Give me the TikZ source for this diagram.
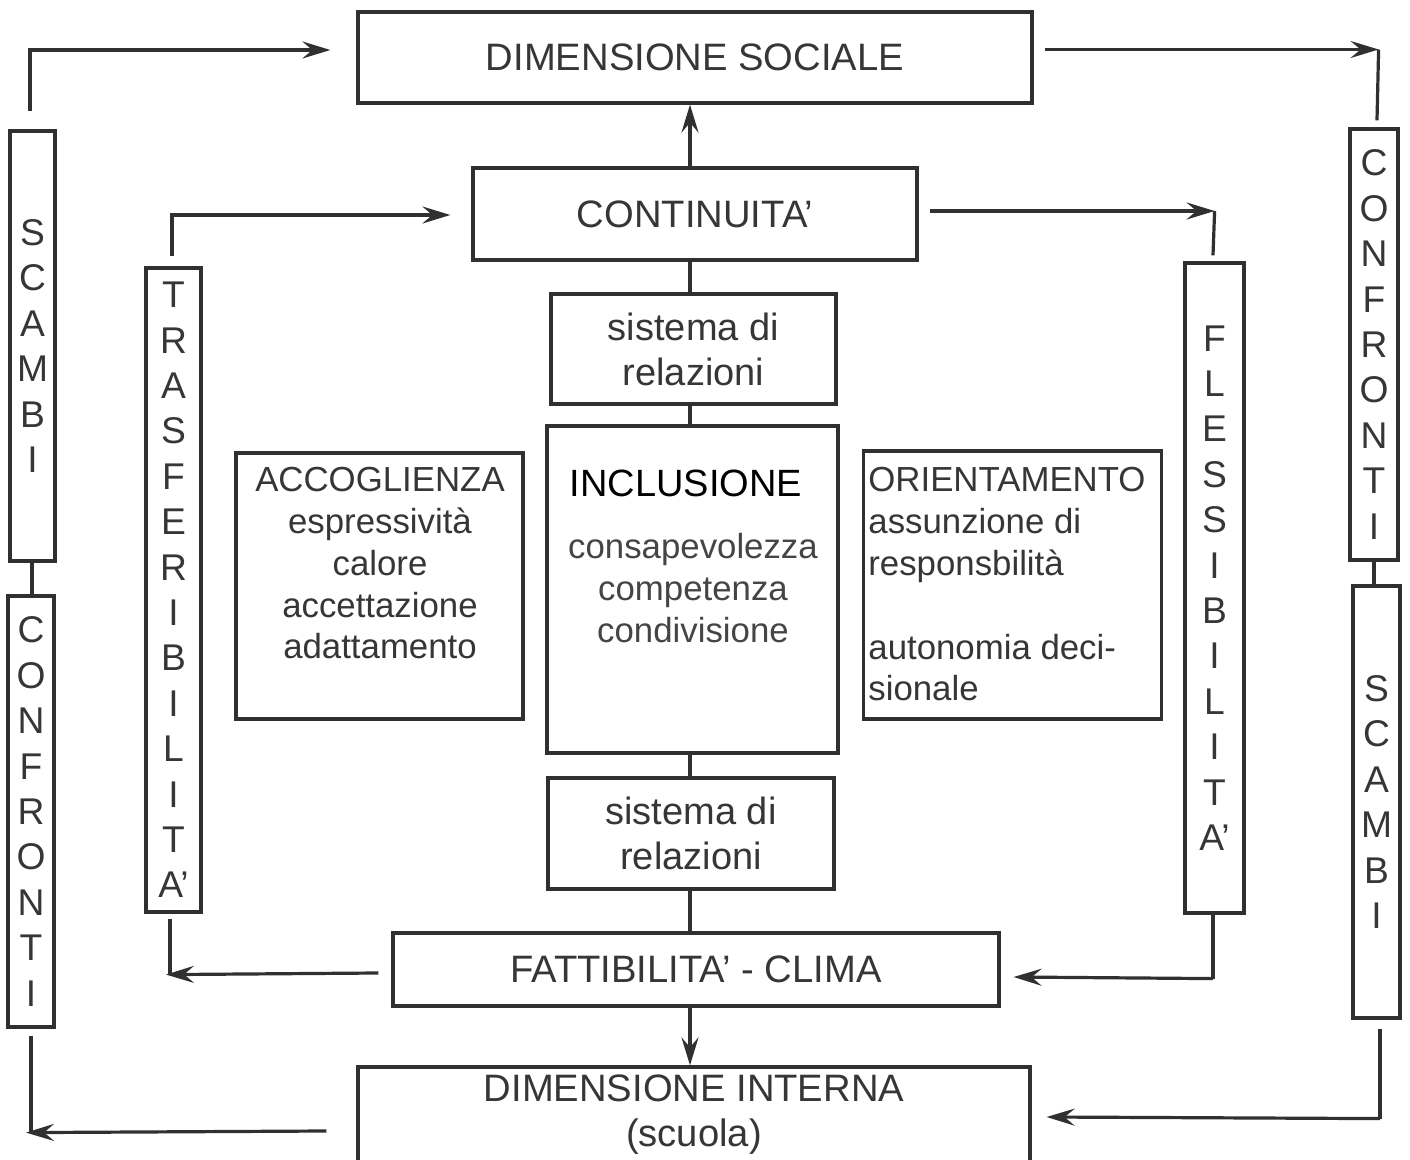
\documentclass[tikz,border=0pt]{standalone}
\usepackage{fontspec}
\setmainfont{Liberation Sans}
\usetikzlibrary{arrows.meta,calc}
\definecolor{ink}{HTML}{303030}
\definecolor{txt}{HTML}{363636}
\definecolor{lighttxt}{HTML}{454545}
\begin{document}
\begin{tikzpicture}[x=0.5pt,y=-0.5pt,
  box/.style={draw=ink, line width=1.6pt, inner sep=0pt, text=txt, align=center},
  head/.style={box, font=\fontsize{19.1}{22.5}\selectfont},
  rel/.style={box, font=\fontsize{19}{22.5}\selectfont},
  body/.style={font=\fontsize{17.4}{20.9}\selectfont, text=txt, inner sep=0pt},
  vbox/.style={box, font=\fontsize{18.6}{22.7}\selectfont},
  con/.style={draw=ink, line width=1.6pt},
  arr/.style={con, -{Stealth[length=14pt,width=8.5pt,inset=5pt]}},
]
\useasboundingbox[fill=white] (0,0) rectangle (1410,1160);

% main boxes
\node[head, minimum width=337pt, minimum height=45.5pt] (soc) at (695,57.5) {DIMENSIONE SOCIALE};
\node[head, minimum width=222pt, minimum height=46pt] (cont) at (695,214) {CONTINUITA’};
\node[rel, minimum width=142.5pt, minimum height=55pt] (sis1) at (693.5,349) {sistema di\\relazioni};
\node[box, minimum width=145.5pt, minimum height=163.5pt] (incl) at (692.5,589.5) {};
\node[box, minimum width=143.5pt, minimum height=133pt] (acc) at (379.5,586) {};
\node[box, minimum width=149pt, minimum height=134pt] (ori) at (1012.5,585) {};
\node[rel, minimum width=143pt, minimum height=55.5pt] (sis2) at (691,833.5) {sistema di\\relazioni};
\node[head, minimum width=303pt, minimum height=36.5pt] (fatt) at (696,969.5) {FATTIBILITA’ - CLIMA};
\node[head, minimum width=336pt, minimum height=47.5pt] (int) at (694,1114.5) {DIMENSIONE INTERNA\\(scuola)};

% texts inside the three middle boxes
\node[font=\fontsize{19}{22}\selectfont, text=black, inner sep=0pt, anchor=north] (inclT) at (686,470) {INCLUSIONE};
\node[body, text=lighttxt, align=center, anchor=north] (inclB) at (693,533) {consapevolezza\\competenza\\condivisione};
\node[body, align=center, anchor=north] (accT) at (380,467) {ACCOGLIENZA\\espressività\\calore\\accettazione\\adattamento};
\node[body, align=left, anchor=north west] (oriT) at (868,467) {ORIENTAMENTO\\assunzione di\\responsbilità\\[21pt]autonomia deci-\\sionale};

% vertical letter boxes
\node[vbox, minimum width=22.5pt, minimum height=215pt] (scL) at (32.5,346) {S\\C\\A\\M\\B\\I};
\node[vbox, minimum width=23pt, minimum height=215.5pt] (cfL) at (31,811.5) {C\\O\\N\\F\\R\\O\\N\\T\\I};
\node[vbox, minimum width=27.5pt, minimum height=322pt] (tra) at (173.5,590) {T\\R\\A\\S\\F\\E\\R\\I\\B\\I\\L\\I\\T\\A’};
\node[vbox, minimum width=29.5pt, minimum height=325pt] (fle) at (1214.5,588) {F\\L\\E\\S\\S\\I\\B\\I\\L\\I\\T\\A’};
\node[vbox, minimum width=24pt, minimum height=215.5pt] (cfR) at (1374,344.5) {C\\O\\N\\F\\R\\O\\N\\T\\I};
\node[vbox, minimum width=23.5pt, minimum height=216pt] (scR) at (1376.5,802) {S\\C\\A\\M\\B\\I};

% outer top connectors
\draw[arr] ($(scL.north)+(-2.5,-18)$) |- ($(soc.west)+(-26,-7.5)$);
\coordinate (c1) at ($(soc.east)+(345,-8)$);
\draw[arr] ($(soc.east)+(11,-8)$) -- (c1);
\draw[con] (c1) -- ($(cfR.north)+(3,-7)$);

% inner top connectors
\draw[arr] ($(cont.north)+(-5,0)$) -- ($(soc.south)+(-5,0)$);
\draw[arr] ($(tra.north)+(-1.5,-10)$) |- ($(cont.west)+(-21,1)$);
\coordinate (c2) at ($(cont.east)+(296,-3)$);
\draw[arr] ($(cont.east)+(11,-3)$) -- (c2);
\draw[con] (c2) -- ($(fle.north)+(-1.5,-6)$);

% central chain
\draw[con] ($(cont.south)+(-5,0)$) -- ($(sis1.north)+(-3.5,0)$);
\draw[con] ($(sis1.south)+(-3.5,0)$) -- ($(incl.north)+(-2.5,0)$);
\draw[con] ($(incl.south)+(-2.5,0)$) -- ($(sis2.north)+(-1,0)$);
\draw[con] ($(sis2.south)+(-1,0)$) -- ($(fatt.north)+(-6,0)$);
\draw[arr] ($(fatt.south)+(-6,0)$) -- ($(int.north)+(-4,0)$);

% side links between letter boxes
\draw[con] ($(scL.south)+(-0.5,0)$) -- ($(cfL.north)+(1,0)$);
\draw[con] (cfR.south) -- ($(scR.north)+(-2.5,0)$);

% bottom inner connectors
\coordinate (c3) at ($(tra.south)+(-3.5,61)$);
\draw[con] ($(tra.south)+(-3.5,5)$) -- (c3);
\draw[arr] ($(fatt.west)+(-13,3.5)$) -- ($(c3)+(-4,0)$);
\coordinate (c5) at ($(fle.south)+(-1.5,64)$);
\draw[con] ($(fle.south)+(-1.5,0)$) -- (c5);
\draw[arr] (c5) -- ($(fatt.east)+(13,7.5)$);

% bottom outer connectors
\coordinate (c4) at ($(cfL.south)+(0,104)$);
\draw[con] ($(cfL.south)+(0,7)$) -- (c4);
\draw[arr] ($(int.west)+(-30,16.5)$) -- ($(c4)+(-5,0)$);
\coordinate (c6) at ($(scR.south)+(3.5,99)$);
\draw[con] ($(scR.south)+(3.5,9)$) -- (c6);
\draw[arr] (c6) -- ($(int.east)+(15,2.5)$);
\end{tikzpicture}
\end{document}
